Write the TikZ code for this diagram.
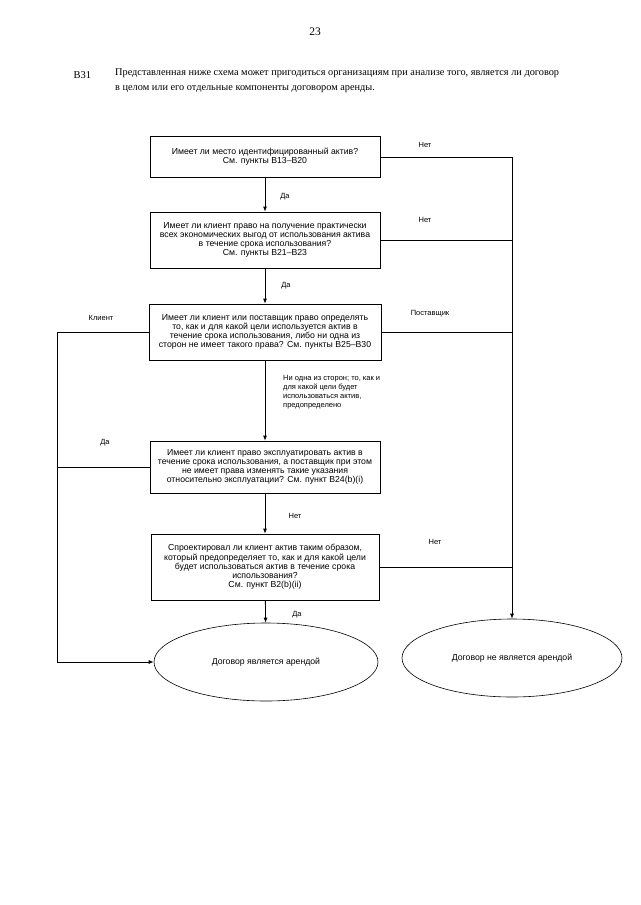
\documentclass[tikz,border=0pt]{standalone}
\usepackage{fontspec}
\setmainfont{Liberation Serif}
\setsansfont{Liberation Sans}
\usetikzlibrary{arrows.meta,shapes.geometric}
\begin{document}
\begin{tikzpicture}[x=1pt,y=-1pt,
  qbox/.style={draw,line width=0.8pt,align=center,inner sep=2pt,
    font=\sffamily\fontsize{8.7}{9.2}\selectfont},
  endell/.style={draw,ellipse,line width=0.6pt,font=\sffamily\fontsize{8.7}{9.2}\selectfont},
  lbl/.style={font=\sffamily\fontsize{7.5}{9}\selectfont,inner sep=0pt},
  conn/.style={line width=0.8pt},
  arr/.style={line width=0.8pt,-{Latex[length=5pt,width=4pt]}}]
\useasboundingbox (0,0) rectangle (640,905);
% header
\node[font=\fontsize{11.5}{13}\selectfont] (pg) at (315,32) {23};
\node[font=\fontsize{10.5}{15}\selectfont,anchor=west] (num) at (70,75) {B31};
\node[font=\fontsize{10.3}{15}\selectfont,anchor=north west,align=left,inner sep=0pt] (par) at (115,69)
 {Представленная ниже схема может пригодиться организациям при анализе того, является ли договор\\
  в целом или его отдельные компоненты договором аренды.};
% boxes
\node[qbox,minimum width=230,minimum height=41] (b1) at (265,157)
 {Имеет ли место идентифицированный актив?\\См. пункты B13–B20};
\node[qbox,minimum width=230,minimum height=56] (b2) at (265,240)
 {Имеет ли клиент право на получение практически\\всех экономических выгод от использования актива\\в течение срока использования?\\См. пункты B21–B23};
\node[qbox,minimum width=232,minimum height=56] (b3) at (265,332)
 {Имеет ли клиент или поставщик право определять\\то, как и для какой цели используется актив в\\течение срока использования, либо ни одна из\\сторон не имеет такого права? См. пункты B25–B30};
\node[qbox,minimum width=230,minimum height=52] (b4) at (265,467)
 {Имеет ли клиент право эксплуатировать актив в\\течение срока использования, а поставщик при этом\\не имеет права изменять такие указания\\относительно эксплуатации? См. пункт B24(b)(i)};
\node[qbox,minimum width=228,minimum height=66] (b5) at (265,567)
 {Спроектировал ли клиент актив таким образом,\\который предопределяет то, как и для какой цели\\будет использоваться актив в течение срока\\использования?\\См. пункт B2(b)(ii)};
% end ellipses
\node[endell,minimum width=224,minimum height=78] (e1) at (266,662) {Договор является арендой};
\node[endell,minimum width=220,minimum height=78] (e2) at (512,658) {Договор не является арендой};
% side coordinates
\coordinate (R) at (512,0);
\coordinate (L) at (57,0);
% main vertical
\draw[arr] (b1) -- (b2);
\draw[arr] (b2) -- (b3);
\draw[arr] (b3) -- (b4);
\draw[arr] (b4) -- (b5);
\draw[arr] (b5) -- (e1);
% right branch
\draw[arr] (b1.east) -- (b1.east -| R) -- (e2.north);
\draw[conn] (b2.east) -- (b2.east -| R);
\draw[conn] (b3.east) -- (b3.east -| R);
\draw[conn] (b5.east) -- (b5.east -| R);
% left branch
\draw[arr] (b3.west) -- (b3.west -| L) -- (L |- e1.west) -- (e1.west);
\draw[conn] (b4.west) -- (b4.west -| L);
% labels
\node[lbl] (l1) at (285,197) {Да};
\node[lbl] (l1b) at (286,286) {Да};
\node[lbl] (l2) at (425,145) {Нет};
\node[lbl] (l3) at (425,220) {Нет};
\node[lbl] (l4) at (101,318) {Клиент};
\node[lbl] (l5) at (430,314) {Поставщик};
\node[lbl,anchor=north west,align=left] (l6) at (283,375)
 {Ни одна из сторон; то, как и\\для какой цели будет\\использоваться актив,\\предопределено};
\node[lbl] (l7) at (105,443) {Да};
\node[lbl] (l8) at (295,516) {Нет};
\node[lbl] (l9) at (435,542) {Нет};
\node[lbl] (l10) at (297,615) {Да};
\end{tikzpicture}
\end{document}
